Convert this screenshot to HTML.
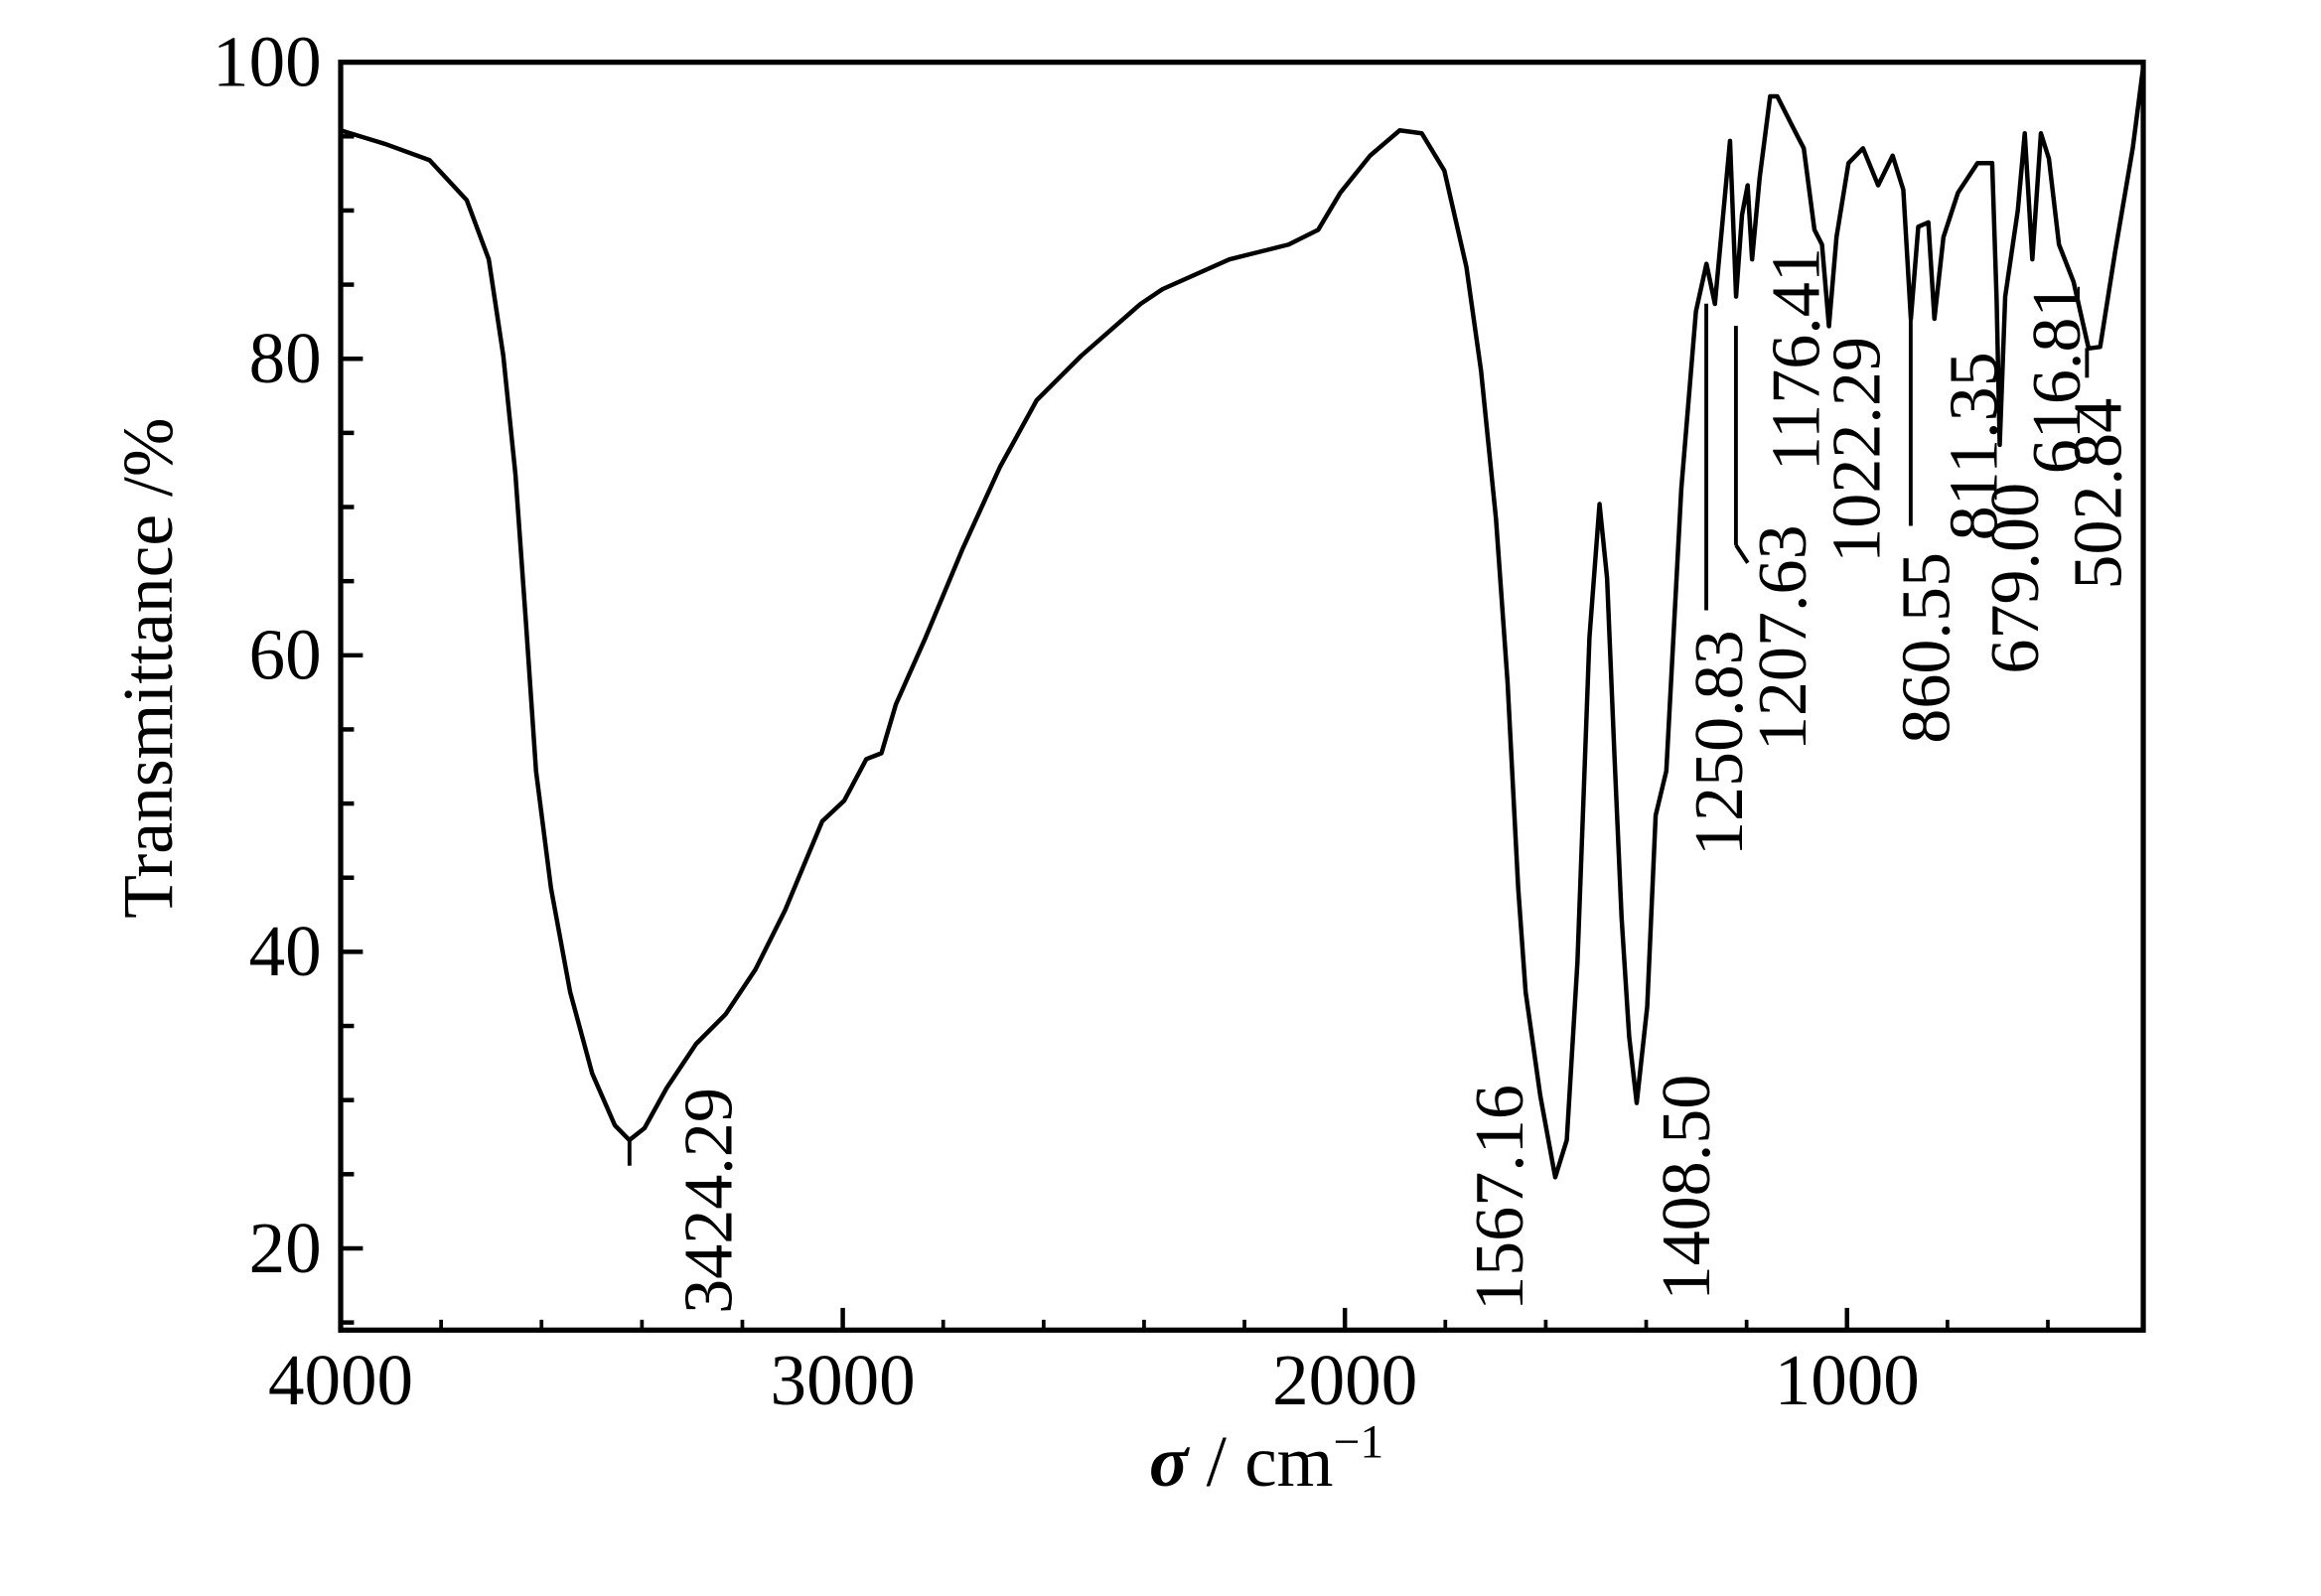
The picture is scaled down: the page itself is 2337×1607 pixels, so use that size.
<!DOCTYPE html>
<html><head><meta charset="utf-8"><style>
html,body{margin:0;padding:0;background:#fff;}
svg{display:block;}
text{font-family:"Liberation Serif",serif;fill:#000;}
</style></head><body>
<svg id="chart" width="2337" height="1607" viewBox="0 0 1567 1077.5" xmlns="http://www.w3.org/2000/svg">
<rect x="0" y="0" width="1567" height="1077.5" fill="#fff"/>
<g id="ticks"></g>
<g id="curve"></g>
<g id="ann"></g>
<rect x="230" y="42" width="1217" height="856" fill="none" stroke="#000" stroke-width="3.5"/>
<text transform="translate(116,451) rotate(-90)" text-anchor="middle" font-size="48">Transmittance /%</text>
<text x="855" y="1003" text-anchor="middle" font-size="49"><tspan font-weight="bold" font-style="italic">σ</tspan> / cm<tspan dy="-19" font-size="32">−1</tspan></text>
</svg>
<script>
const xTicks=[4000,3000,2000,1000];
const yTicks=[20,40,60,80,100];
const wn=[4000,3912,3823,3749,3705,3676,3652,3631,3611,3581,3543,3499,3454,3425,3395,3351,3292,3233,3174,3115,3041,2997,2953,2923,2894,2835,2761,2687,2614,2525,2407,2363,2230,2112,2053,2009,1950,1891,1847,1802,1758,1729,1699,1676,1655,1640,1611,1581,1558,1537,1513,1493,1478,1463,1449,1434,1419,1398,1381,1360,1330,1301,1280,1263,1248,1233,1221,1209,1198,1189,1174,1153,1139,1109,1086,1065,1050,1036,1021,997,968,938,909,888,873,858,838,826,808,779,740,711,702,696,685,660,646,631,614,598,578,549,519,496,466,431,410];
const tr=[95.4,94.5,93.4,90.7,86.7,80.2,72.2,62.2,52.2,44.3,37.3,31.8,28.3,27.3,28.1,30.8,33.8,35.8,38.8,42.8,48.8,50.2,53.0,53.4,56.7,61.2,67.2,72.7,77.2,80.2,83.7,84.7,86.7,87.7,88.7,91.2,93.7,95.4,95.2,92.7,86.2,79.2,69.2,58.2,44.3,37.3,30.3,24.8,27.3,39.3,61.2,70.2,65.2,53.2,42.3,34.3,29.8,36.3,49.2,52.2,71.2,83.2,86.4,83.7,89.2,94.7,84.2,89.7,91.7,86.7,92.2,97.7,97.7,95.7,94.2,88.7,87.7,82.2,88.2,93.2,94.2,91.7,93.7,91.4,82.7,88.9,89.2,82.7,88.2,91.2,93.2,93.2,84.0,74.2,84.2,90.0,95.2,86.7,95.2,93.5,87.7,85.2,80.7,80.8,87.2,94.2,99.7];
const peakLabels=["3424.29","1567.16","1408.50","1250.83","1207.63","1176.41","1022.29","860.55","811.35","679.00","616.81","502.84"];
const peakTextX=[478,1012,1138,1160,1203,1212,1253,1300,1332,1360,1388,1416];
const peakTextY=[887,885,878,578,507,318,380,502,365,455,320,398];
const X=w=>230+(4000-w)*0.339;
const Y=t=>42+(100-t)*10.01;
const NS="http://www.w3.org/2000/svg";
function mk(tag,attrs,parent){const e=document.createElementNS(NS,tag);for(const k in attrs)e.setAttribute(k,attrs[k]);parent.appendChild(e);return e;}
const tg=document.getElementById('ticks');
for(let w=4000;w>=410;w-=200){
  const major=w%1000===0;
  const l=mk('line',{x1:X(w),x2:X(w),y1:898,y2:898-(major?15:7),stroke:'#000','stroke-width':major?3:2.5},tg);
  
  
}
xTicks.forEach(w=>{const t=mk('text',{x:X(w),y:948,'text-anchor':'middle','font-size':49},tg);t.textContent=String(w);
  
  });
for(let v=15;v<=100;v+=5){
  const major=v%20===0;
  const l=mk('line',{x1:230,x2:230+(major?15:9),y1:Y(v),y2:Y(v),stroke:'#000','stroke-width':3},tg);
  
  
}
yTicks.forEach(v=>{const t=mk('text',{x:217,y:Y(v)+16,'text-anchor':'end','font-size':49},tg);t.textContent=String(v);
  
  });
const cg=document.getElementById('curve');
const p=mk('path',{d:wn.map((w,i)=>(i?'L':'M')+X(w).toFixed(1)+','+Y(tr[i]).toFixed(1)).join(''),fill:'none',stroke:'#000','stroke-width':3,'stroke-linejoin':'round'},cg);


const ag=document.getElementById('ann');
peakLabels.forEach((s,i)=>{const t=mk('text',{transform:`translate(${peakTextX[i]+16},${peakTextY[i]}) rotate(-90)`,'font-size':47},ag);t.textContent=s;
  
  });
const leaders=[[425,770,425,787],[1152,205,1152,412],[1172,220,1172,368],[1172,368,1180,380],[1290,215,1290,355],[1409,235,1409,255]];
leaders.forEach(a=>{const l=mk('line',{x1:a[0],y1:a[1],x2:a[2],y2:a[3],stroke:'#000','stroke-width':2.6},ag);
  
  });
</script>
</body></html>
